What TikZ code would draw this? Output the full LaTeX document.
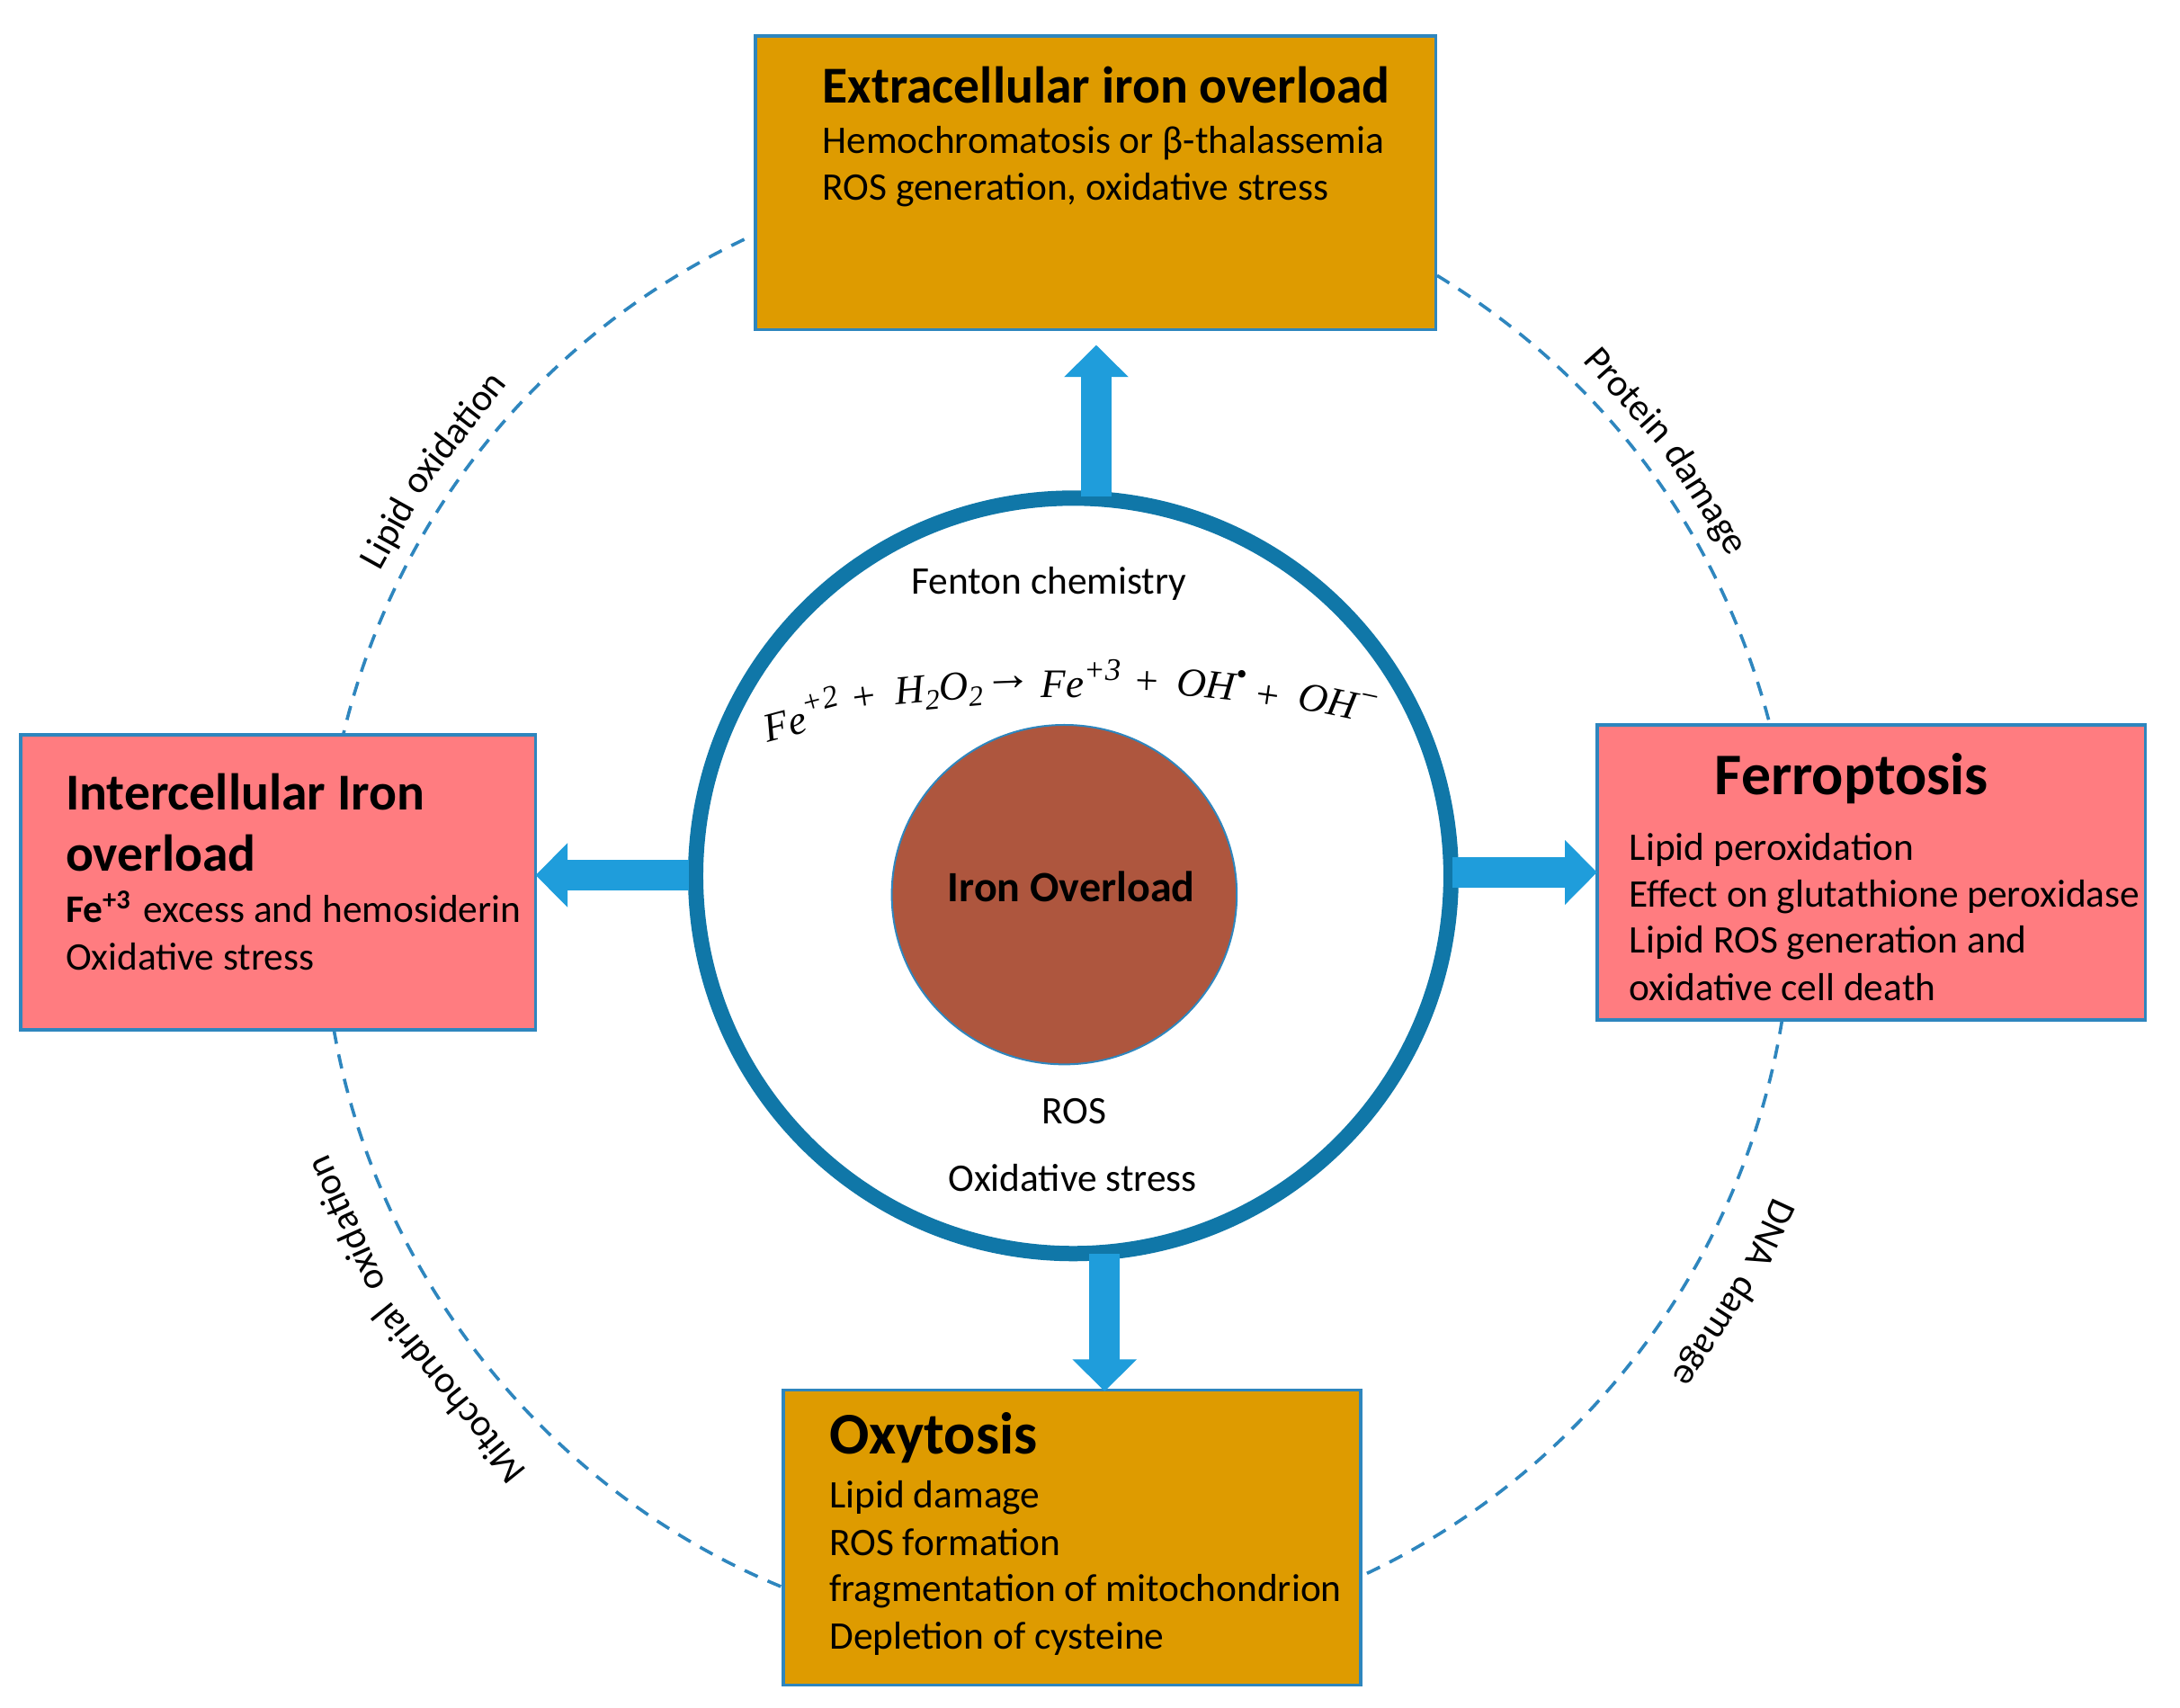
\documentclass[tikz,border=0pt]{standalone}
\usepackage{fontspec}
\setmainfont{Carlito}
\newfontfamily\eqfont{Liberation Serif}
\usetikzlibrary{arrows.meta,calc,shapes.geometric}
\definecolor{edgeblue}{HTML}{2E86BE}
\definecolor{ringblue}{HTML}{1077A8}
\definecolor{arrowblue}{HTML}{1F9DDB}
\definecolor{amberfill}{HTML}{DE9B00}
\definecolor{pinkfill}{HTML}{FF7C80}
\definecolor{corefill}{HTML}{AE563E}
\newcommand{\titlefont}{\fontsize{28.8}{32}\selectfont\bfseries}
\newcommand{\bigtitlefont}{\fontsize{32.8}{36}\selectfont\bfseries}
\newcommand{\bodyfont}{\fontsize{21.7}{26}\selectfont}
\newcommand{\eqsup}[1]{\raisebox{0.42em}{\fontsize{17.5}{20}\selectfont #1}}
\newcommand{\eqsub}[1]{\raisebox{-0.2em}{\fontsize{16}{20}\selectfont #1}}
\tikzset{
  boxnode/.style={rectangle,draw=edgeblue,line width=1.8pt,inner sep=0pt,outer sep=0pt},
  amberbox/.style={boxnode,fill=amberfill},
  pinkbox/.style={boxnode,fill=pinkfill},
  dasharc/.style={draw=edgeblue,line width=1.8pt,dash pattern=on 8pt off 6pt,looseness=0.9},
  blockarrow/.style={draw=arrowblue,line width=17.2pt,-{Triangle[width=34.8pt,length=17.8pt]}},
  titletext/.style={anchor=base west,inner sep=0pt,font=\titlefont},
  bodytext/.style={anchor=base west,inner sep=0pt,font=\bodyfont},
  centertext/.style={anchor=base,inner sep=0pt,font=\bodyfont},
  eqtext/.style={inner sep=0pt,font=\eqfont\itshape\fontsize{22.5}{27}\selectfont},
  arcword/.style={anchor=base,inner sep=0pt,font=\fontsize{21.2}{25}\selectfont},
}
\begin{document}
\begin{tikzpicture}[x=0.7735pt,y=-0.7735pt]
\useasboundingbox (0,0) rectangle (1567,1227);
\coordinate (cc) at (760,650);
% boxes
\node[amberbox,minimum width=378.2pt,minimum height=163.2pt] (top) at (787.5,131.5) {};
\node[pinkbox,minimum width=286.2pt,minimum height=164pt] (left) at (200,634) {};
\node[pinkbox,minimum width=304.8pt,minimum height=164pt] (right) at (1345,627) {};
\node[amberbox,minimum width=321pt,minimum height=164pt] (bottom) at (770.5,1105) {};
% dashed arcs
\draw[dasharc] ($(top.north west)+(-8,146)$) to[bend right=25.5] ($(left.north west)+(232,-1)$);
\draw[dasharc] ($(top.north east)+(1,172)$) to[bend left=22] ($(right.north west)+(124,-1)$);
\draw[dasharc] ($(right.south west)+(133,0)$) to[bend left=28] ($(bottom.north east)+(0,134)$);
\draw[dasharc] ($(left.south west)+(225,0)$) to[bend right=29] ($(bottom.north west)+(0,142)$);
% centre
\node[circle,draw=ringblue,fill=white,line width=8.5pt,minimum size=420pt,inner sep=0pt,outer sep=0pt] (ring) at (771.5,629.5) {};
\node[ellipse,draw=edgeblue,fill=corefill,line width=1pt,minimum width=191.8pt,minimum height=188.7pt,inner sep=0pt] (core) at (765,643) {};
% block arrows
\draw[blockarrow] ($(ring.north)+(16.5,-1)$) -- ($(top.south)+(0.5,11)$);
\draw[blockarrow] ($(ring.west)+(-5,-0.5)$) -- ($(left.east)+(0,-5)$);
\draw[blockarrow] ($(ring.east)+(1,-2.5)$) -- (right.west);
\draw[blockarrow] ($(ring.south)+(22.5,0)$) -- ($(bottom.north)+(23.5,1)$);
% top box text
\node[titletext] (t0) at (591,74) {Extracellular iron overload};
\node[bodytext] (t1) at (591,110) {Hemochromatosis or β-thalassemia};
\node[bodytext] (t2) at (591,144) {ROS generation, oxidative stress};
% left box text
\node[titletext] (l0) at (47,582) {Intercellular Iron};
\node[titletext] (l1) at (47,626) {overload};
\node[bodytext] (l2) at (47,663) {\textbf{Fe\textsuperscript{+3}}\hspace{0.32em}excess and hemosiderin};
\node[bodytext] (l3) at (47,697) {Oxidative stress};
% right box text
\node[titletext,anchor=base,font=\bigtitlefont] (r0) at (1331,571) {Ferroptosis};
\node[bodytext] (r1) at (1171,618) {Lipid peroxidation};
\node[bodytext] (r2) at (1171,652) {Effect on glutathione peroxidase};
\node[bodytext] (r3) at (1171,685) {Lipid ROS generation and};
\node[bodytext] (r4) at (1171,719) {oxidative cell death};
% bottom box text
\node[titletext,font=\bigtitlefont] (b0) at (596,1045) {Oxytosis};
\node[bodytext] (b1) at (596,1084) {Lipid damage};
\node[bodytext] (b2) at (596,1118) {ROS formation};
\node[bodytext] (b3) at (596,1151) {fragmentation of mitochondrion};
\node[bodytext] (b4) at (596,1185) {Depletion of cysteine};
% centre text
\node[centertext,font=\fontsize{24}{28}\selectfont\bfseries] (c0) at (770,648) {Iron Overload};
\node[centertext] (c1) at (754,427) {Fenton chemistry};
\node[centertext] (c2) at (772,808) {ROS};
\node[centertext] (c3) at (771,856) {Oxidative stress};
% equation
\node[eqtext,rotate=15] (e1) at (576,513) {Fe\eqsup{+2}};
\node[eqtext,rotate=8] (e2) at (621,502) {+};
\node[eqtext,rotate=5] (e3) at (675,497) {H\eqsub{2}O\eqsub{2}};
\node[eqtext,rotate=2,font=\eqfont\itshape\fontsize{27}{30}\selectfont] (e4) at (725,491) {→};
\node[eqtext] (e5) at (777,488) {Fe\eqsup{+3}};
\node[eqtext,rotate=-2] (e6) at (824,491) {+};
\node[eqtext,rotate=-6] (e7) at (871,491) {OH\eqsup{•}};
\node[eqtext,rotate=-8] (e8) at (911,501) {+};
\node[eqtext,rotate=-12] (e9) at (962,505) {OH\eqsup{−}};
% curved labels, word by word around the circle
\node[arcword,rotate=61] (a1) at ([shift={(151:419pt)}]cc) {Lipid};
\node[arcword,rotate=52] (a2) at ([shift={(142:419pt)}]cc) {oxidation};
\node[arcword,rotate=-48.3] (a3) at ([shift={(41.7:419pt)}]cc) {Protein};
\node[arcword,rotate=-58] (a4) at ([shift={(32:419pt)}]cc) {damage};
\node[arcword,rotate=-114.8] (a5) at ([shift={(-24.8:430pt)}]cc) {DNA};
\node[arcword,rotate=-123] (a6) at ([shift={(-33:430pt)}]cc) {damage};
\node[arcword,rotate=128.8] (a7) at ([shift={(218.8:427pt)}]cc) {Mitochondrial};
\node[arcword,rotate=114.2] (a8) at ([shift={(204.2:427pt)}]cc) {oxidation};
\end{tikzpicture}
\end{document}
